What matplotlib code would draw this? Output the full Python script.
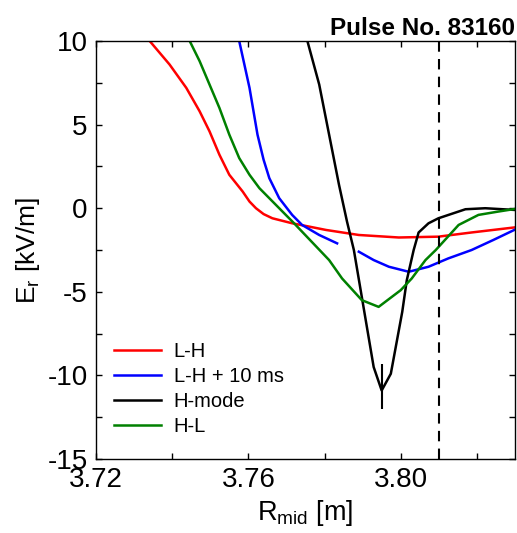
import numpy as np
import matplotlib
matplotlib.use("Agg")
import matplotlib.pyplot as plt
from matplotlib.ticker import MultipleLocator

plt.rcParams['font.family'] = ['Liberation Sans', 'DejaVu Sans']
plt.rcParams['mathtext.fontset'] = 'custom'
plt.rcParams['mathtext.rm'] = 'Liberation Sans'
plt.rcParams['axes.unicode_minus'] = False

# Er profiles vs midplane radius, pulse 83160
r_lh = [3.7341, 3.7393, 3.7437, 3.7472, 3.7498, 3.7524, 3.7550, 3.7585, 3.7603, 3.7620,
        3.7640, 3.7663, 3.7715, 3.7760, 3.7804, 3.7890, 3.7995, 3.8099, 3.8186, 3.8298]
e_lh = [10.0, 8.6, 7.2, 5.8, 4.6, 3.2, 2.0, 1.0, 0.4, 0.0,
        -0.35, -0.6, -0.9, -1.1, -1.3, -1.6, -1.75, -1.7, -1.45, -1.15]

# L-H + 10 ms has a gap in the data
r_lh10_a = [3.7576, 3.7603, 3.7624, 3.7640, 3.7655, 3.7681, 3.7715, 3.7741, 3.7786, 3.7833]
e_lh10_a = [10.0, 7.2, 4.4, 2.9, 1.8, 0.6, -0.4, -1.0, -1.6, -2.1]
r_lh10_b = [3.7890, 3.7929, 3.7969, 3.8021, 3.8073, 3.8125, 3.8186, 3.8243, 3.8298]
e_lh10_b = [-2.6, -3.1, -3.5, -3.8, -3.5, -3.0, -2.5, -1.9, -1.3]

r_hmode = [3.7755, 3.7786, 3.7812, 3.7838, 3.7859, 3.7877, 3.7903, 3.7929, 3.7950,
           3.7974, 3.8004, 3.8016, 3.8034, 3.8047, 3.8073, 3.8099, 3.8170, 3.8222, 3.8298]
e_hmode = [10.0, 7.4, 4.4, 1.4, -0.8, -2.5, -6.0, -9.5, -10.9,
           -9.9, -6.2, -4.3, -2.5, -1.45, -0.9, -0.6, -0.06, 0.0, -0.1]
# error bar at the H-mode well bottom
r_hmode_err = 3.7950
e_hmode_err = -10.9
err_lo, err_hi = 1.1, 1.6

r_hl = [3.7446, 3.7472, 3.7498, 3.7524, 3.7550, 3.7576, 3.7603, 3.7629, 3.7681, 3.7720,
        3.7766, 3.7812, 3.7846, 3.7898, 3.7942, 3.8000, 3.8029, 3.8065, 3.8092, 3.8152,
        3.8204, 3.8256, 3.8298]
e_hl = [10.0, 8.8, 7.4, 6.0, 4.4, 3.0, 2.0, 1.2, 0.0, -0.9,
        -2.0, -3.1, -4.2, -5.5, -5.9, -4.9, -4.2, -3.1, -2.5, -1.0,
        -0.4, -0.2, -0.05]

r_sep = 3.81

fig = plt.figure(figsize=(5.17, 5.33), dpi=100)
ax = fig.add_axes([0.1857, 0.1388, 0.8104, 0.7842])

lw = 1.8
ax.plot(r_lh, e_lh, color='#ff0000', lw=lw, label='L-H')
ax.plot(r_lh10_a, e_lh10_a, color='#0000ff', lw=lw, label='L-H + 10 ms')
ax.plot(r_lh10_b, e_lh10_b, color='#0000ff', lw=lw)
ax.plot(r_hmode, e_hmode, color='black', lw=lw, label='H-mode')
ax.errorbar([r_hmode_err], [e_hmode_err], yerr=[[err_lo], [err_hi]],
            fmt='none', ecolor='black', elinewidth=1.5, capsize=0)
ax.plot(r_hl, e_hl, color='#008000', lw=lw, label='H-L')
ax.axvline(r_sep, color='black', lw=1.5, ls=(0, (5, 3.5)))

ax.set_xlim(3.72, 3.83)
ax.set_ylim(-15, 10)
ax.xaxis.set_minor_locator(MultipleLocator(0.02))
ax.yaxis.set_major_locator(MultipleLocator(5))
ax.yaxis.set_minor_locator(MultipleLocator(2.5))
ax.set_xticks([3.72, 3.76, 3.80])
ax.set_xticklabels(['3.72', '3.76', '3.80'])
ax.tick_params(which='both', direction='in', top=True, right=True,
               length=4, width=1, labelsize=20)
ax.tick_params(axis='y', pad=6)
ax.tick_params(axis='x', pad=6)
for s in ax.spines.values():
    s.set_linewidth(1)

ax.set_xlabel(r'R$_{\mathregular{mid}}$ [m]', fontsize=19.5, labelpad=3)
ax.set_ylabel(r'E$_{\mathregular{r}}$ [kV/m]', fontsize=19, labelpad=4)
ax.set_title('Pulse No. 83160', loc='right', fontsize=17.5, fontweight='bold', pad=4)

ax.legend(loc='lower left', bbox_to_anchor=(0.0, 0.011), frameon=False, fontsize=14.5,
          handlelength=2.35, handletextpad=0.6, labelspacing=0.3, borderaxespad=0.5)

fig.savefig('out.png', dpi=100)
